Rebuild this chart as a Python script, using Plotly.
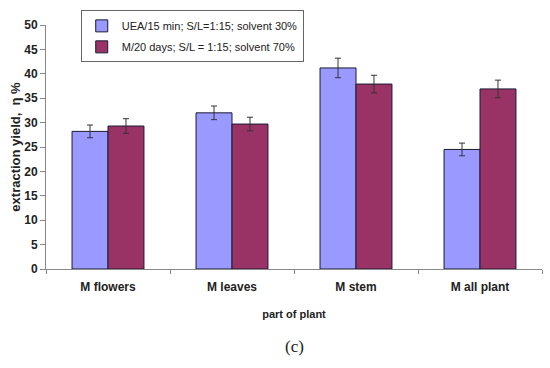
import plotly.graph_objects as go

categories = ["M flowers", "M leaves", "M stem", "M all plant"]
uea_values = [28.2, 32.0, 41.2, 24.5]
uea_errors = [1.3, 1.4, 2.0, 1.3]
mac_values = [29.3, 29.7, 37.9, 36.9]
mac_errors = [1.5, 1.4, 1.8, 1.8]
series_names = ["UEA/15 min; S/L=1:15; solvent 30%", "M/20 days; S/L = 1:15; solvent 70%"]
y_ticks = [0, 5, 10, 15, 20, 25, 30, 35, 40, 45, 50]

fig = go.Figure()
fig.add_trace(go.Bar(
    x=categories, y=uea_values, name=series_names[0], legendgroup="a",
    marker=dict(color="#9999FF", line=dict(color="#1a1a33", width=1)),
    error_y=dict(type="data", array=uea_errors, color="#333333", thickness=1, width=3),
))
fig.add_trace(go.Bar(
    x=categories, y=mac_values, name=series_names[1], legendgroup="b",
    marker=dict(color="#993366", line=dict(color="#1a1a33", width=1)),
    error_y=dict(type="data", array=mac_errors, color="#333333", thickness=1, width=3),
))

fig.update_layout(
    width=550, height=368,
    margin=dict(l=46, r=8, t=25, b=99),
    plot_bgcolor="white", paper_bgcolor="white",
    barmode="group", bargap=0.42, bargroupgap=0,
    font=dict(family="Liberation Sans, Arial", color="#222222"),
    showlegend=True,
    legend=dict(
        x=0.07, y=1.06, xanchor="left", yanchor="top",
        bgcolor="white", bordercolor="#666666", borderwidth=1,
        font=dict(size=11, family="Liberation Sans, Arial"),
        itemwidth=30, tracegroupgap=2,
    ),
    xaxis=dict(
        showline=True, linecolor="#888888", linewidth=1,
        ticks="outside", tickson="boundaries", ticklen=4, tickcolor="#888888",
        tickfont=dict(size=12, family="Liberation Sans, Arial", color="#222222"),
        ticklabelstandoff=7,
        title=dict(text="<b>part of plant</b>", font=dict(size=11), standoff=16),
        automargin=False,
    ),
    yaxis=dict(
        range=[0, 50], tickvals=y_ticks, ticktext=[f"<b>{v}</b>" for v in y_ticks],
        showline=True, linecolor="#888888", linewidth=1,
        ticks="outside", ticklen=5, tickcolor="#888888",
        showgrid=False, zeroline=False,
        tickfont=dict(size=12, family="Liberation Sans, Arial", color="#222222"),
        title=dict(text="<b>extraction yield,  η %</b>", font=dict(size=13), standoff=0),
        automargin=False,
    ),
    annotations=[dict(
        text="(c)", x=0.5, y=-0.27, xref="paper", yref="paper",
        xanchor="center", yanchor="top", showarrow=False,
        font=dict(size=17, family="Liberation Serif, Times New Roman", color="#222222"),
    )],
)
fig.update_xaxes(tickprefix="<b>", ticksuffix="</b>")

fig.write_html("out.html", config={"displayModeBar": False},
               post_script="document.body.style.margin='0';document.body.style.padding='0';")
